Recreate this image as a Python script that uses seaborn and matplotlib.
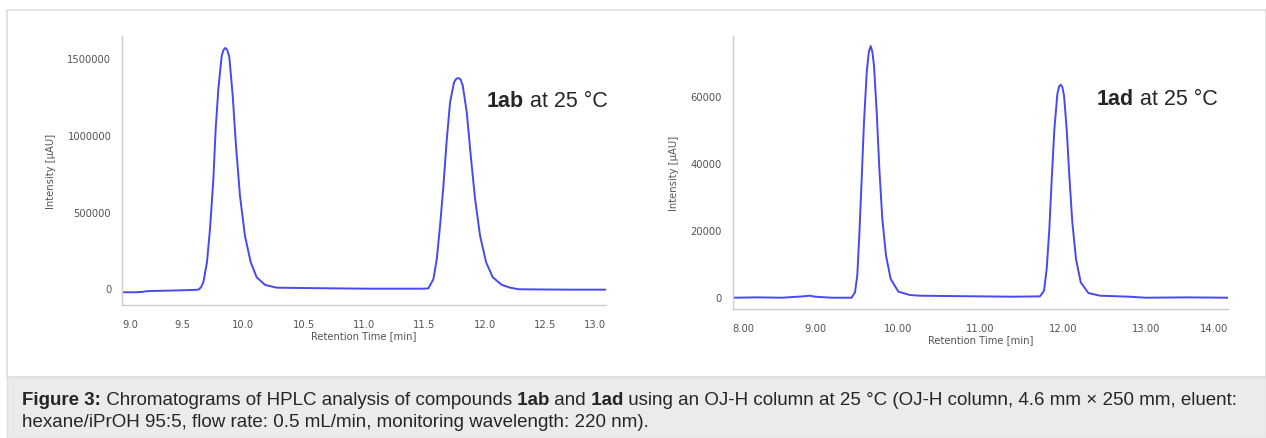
import matplotlib
matplotlib.use("Agg")
import matplotlib.pyplot as plt
import seaborn as sns
from matplotlib.patches import Rectangle

# ---- data ----
# 1ab (left panel)
time_1ab = [9.00, 9.10, 9.16, 9.20, 9.24, 9.40, 9.58, 9.63, 9.65, 9.67, 9.70, 9.725,
            9.753, 9.772, 9.794, 9.822, 9.838, 9.852, 9.868, 9.885, 9.913, 9.940,
            9.973, 10.014, 10.062, 10.111, 10.18, 10.277, 10.47, 10.70, 11.01, 11.30,
            11.49, 11.532, 11.574, 11.602, 11.629, 11.657, 11.685, 11.712, 11.745,
            11.763, 11.781, 11.799, 11.817, 11.850, 11.883, 11.919, 11.960, 12.010,
            12.065, 12.140, 12.209, 12.28, 12.50, 12.75, 13.00]
inten_1ab = [-26000, -26000, -24000, -19000, -17500, -15000, -11000, -9000, 6000,
             39000, 170000, 387000, 713000, 1039000, 1300000, 1517000, 1556000,
             1567000, 1554000, 1507000, 1256000, 930000, 604000, 343000, 170000,
             72000, 22000, 4000, 2000, 0, -2500, -2500, -2500, -1000, 60000, 191000,
             408000, 669000, 974000, 1213000, 1343000, 1366000, 1371000, 1362000,
             1321000, 1148000, 865000, 582000, 343000, 170000, 72000, 22000, 4000,
             -6500, -8000, -9000, -9000]

# 1ad (right panel)
time_1ad = [8.00, 8.30, 8.60, 8.85, 8.93, 9.00, 9.20, 9.44, 9.481, 9.509, 9.533,
            9.562, 9.590, 9.623, 9.648, 9.671, 9.692, 9.711, 9.744, 9.776, 9.812,
            9.857, 9.913, 10.006, 10.147, 10.268, 10.60, 11.00, 11.40, 11.72, 11.769,
            11.801, 11.833, 11.862, 11.894, 11.930, 11.952, 11.971, 11.990, 12.011,
            12.043, 12.075, 12.111, 12.156, 12.213, 12.305, 12.446, 12.567, 12.80,
            13.00, 13.50, 14.00]
inten_1ad = [-300, -200, -300, 100, 300, 0, -300, -300, 1300, 6300, 18200, 35100,
             52000, 67000, 73000, 74800, 73000, 69000, 55000, 38100, 23200, 12200,
             5300, 1500, 500, 300, 200, 100, 0, 100, 1800, 8300, 20200, 35100, 50000,
             60500, 62800, 63300, 62600, 60000, 50000, 36100, 22200, 11200, 4300,
             1100, 300, 200, 0, -300, -200, -300]

xticks_1ab = [9.0, 9.5, 10.0, 10.5, 11.0, 11.5, 12.0, 12.5, 13.0]
yticks_1ab = [0, 500000, 1000000, 1500000]
xticks_1ad = [8.0, 9.0, 10.0, 11.0, 12.0, 13.0, 14.0]
yticks_1ad = [0, 20000, 40000, 60000]

caption_line1 = [("Figure 3:", "bold"),
                 (" Chromatograms of HPLC analysis of compounds", "normal"),
                 (" 1ab", "bold"), (" and", "normal"), (" 1ad", "bold"),
                 (" using an OJ-H column at 25 °C (OJ-H column, 4.6 mm × 250 mm, eluent:", "normal")]
caption_line2 = "hexane/iPrOH 95:5, flow rate: 0.5 mL/min, monitoring wavelength: 220 nm)."

sns.set_style("white")
plt.rcParams["font.family"] = ["DejaVu Sans"]

LINE = "#4848f4"
GREY_TXT = "#555555"
SPINE = "#cccccc"
SANS = ["Liberation Sans", "DejaVu Sans"]
W, H = 1266, 439

fig = plt.figure(figsize=(W / 100, H / 100), dpi=100)

# panel frame and caption box
fig.patches.append(Rectangle((7 / W, (H - 378) / H), 1 - 7 / W, (378 - 11) / H,
                             transform=fig.transFigure, facecolor="white",
                             edgecolor="#dddddd", lw=1.2, zorder=-2))
fig.patches.append(Rectangle((7 / W, 0), 1 - 7 / W, (H - 378) / H,
                             transform=fig.transFigure, facecolor="#ebebeb",
                             edgecolor="#dddddd", lw=1.0, zorder=-2))


def rich_text(x, y, parts, size, family):
    t = fig.text(x, y, parts[0][0], fontsize=size, weight=parts[0][1],
                 va="bottom", ha="left", family=family)
    for s, w in parts[1:]:
        t = fig.add_artist(plt.Annotation(s, xy=(1, 0), xycoords=t, va="bottom",
                                          ha="left", fontsize=size, weight=w,
                                          family=family))
    return t


def style_axes(ax, xticks, xfmt, yticks, xlim, ylim):
    ax.set_xlim(*xlim)
    ax.set_ylim(*ylim)
    ax.patch.set_alpha(0)
    sns.despine(ax=ax)
    for side in ["left", "bottom"]:
        ax.spines[side].set_color(SPINE)
        ax.spines[side].set_linewidth(1.0)
    ax.set_xticks(xticks, labels=[xfmt.format(v) for v in xticks])
    ax.set_yticks(yticks, labels=[str(v) for v in yticks])
    ax.tick_params(axis="both", colors=SPINE, labelcolor=GREY_TXT, labelsize=7.2,
                   length=4, width=1.0, direction="out")
    ax.tick_params(axis="y", pad=4)
    ax.tick_params(axis="x", pad=6)
    labs = ax.get_xticklabels()
    labs[0].set_horizontalalignment("left")
    labs[-1].set_horizontalalignment("right")
    ax.set_xlabel("Retention Time [min]", fontsize=7.2, color=GREY_TXT, labelpad=1)
    ax.set_ylabel("Intensity [µAU]", fontsize=7.2, color=GREY_TXT, labelpad=8)
    ax.grid(False)


ax1 = fig.add_axes([122.4 / W, 1 - 306 / H, (605.7 - 122.4) / W, (306 - 37) / H])
sns.lineplot(x=time_1ab, y=inten_1ab, ax=ax1, color=LINE, lw=1.4, estimator=None)
style_axes(ax1, xticks_1ab, "{:.1f}", yticks_1ab, (9.0, 13.0), (-109000, 1645000))

ax2 = fig.add_axes([732.6 / W, 1 - 310 / H, (1228.4 - 732.6) / W, (310 - 36.7) / H])
sns.lineplot(x=time_1ad, y=inten_1ad, ax=ax2, color=LINE, lw=1.4, estimator=None)
style_axes(ax2, xticks_1ad, "{:.2f}", yticks_1ad, (8.0, 14.0), (-3670, 77900))

# sample labels
rich_text(487 / W, 1 - 112 / H, [("1ab", "bold"), (" at 25 °C", "normal")], 15.5, SANS)
rich_text(1097 / W, 1 - 110 / H, [("1ad", "bold"), (" at 25 °C", "normal")], 15.5, SANS)

# caption
rich_text(22 / W, 1 - 409 / H, caption_line1, 13.5, SANS)
fig.text(22 / W, 1 - 431 / H, caption_line2, fontsize=13.5, va="bottom", ha="left",
         family=SANS)

fig.savefig("out.png", dpi=100)
